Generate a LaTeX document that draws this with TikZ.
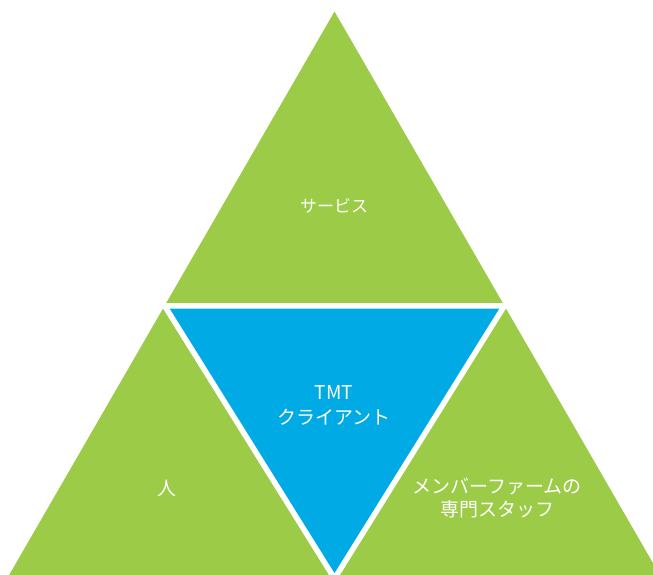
\documentclass[tikz,border=0pt]{standalone}
\usepackage{fontspec}
\setmainfont{Noto Sans CJK JP}
\definecolor{tmtgreen}{RGB}{156,203,72}
\definecolor{tmtblue}{RGB}{0,170,228}
\tikzset{
  tritext/.style={text=white,align=center,inner sep=0pt,font=\fontsize{19}{23}\selectfont},
  divider/.style={draw=white,line width=5.5pt}
}
\begin{document}
\begin{tikzpicture}[x=1pt,y=-1pt]
    \clip (0,0) rectangle (653,574);
    %% outer triangle
    \coordinate (apex) at (334.5,11.5);
    \coordinate (bl) at (-5.3,600);
    \coordinate (br) at (674.3,600);
    \fill[tmtgreen] (apex) -- (bl) -- (br) -- cycle;
    %% inner triangle
    \coordinate (ml) at (164.6,305.8);
    \coordinate (mr) at (504.4,305.8);
    \coordinate (tip) at (334.5,578.5);
    \filldraw[tmtblue,divider] (ml) -- (mr) -- (tip) -- cycle;
    %% texts
    \node[tritext,font=\fontsize{17}{21}\selectfont] (service) at (334,206) {サービス};
    \node[tritext,font=\fontsize{19}{25}\selectfont] (client) at (334,405) {TMT\\クライアント};
    \node[tritext] (people) at (167,488) {人};
    \node[tritext] (staff) at (497,498) {メンバーファームの\\専門スタッフ};
\end{tikzpicture}
\end{document}
